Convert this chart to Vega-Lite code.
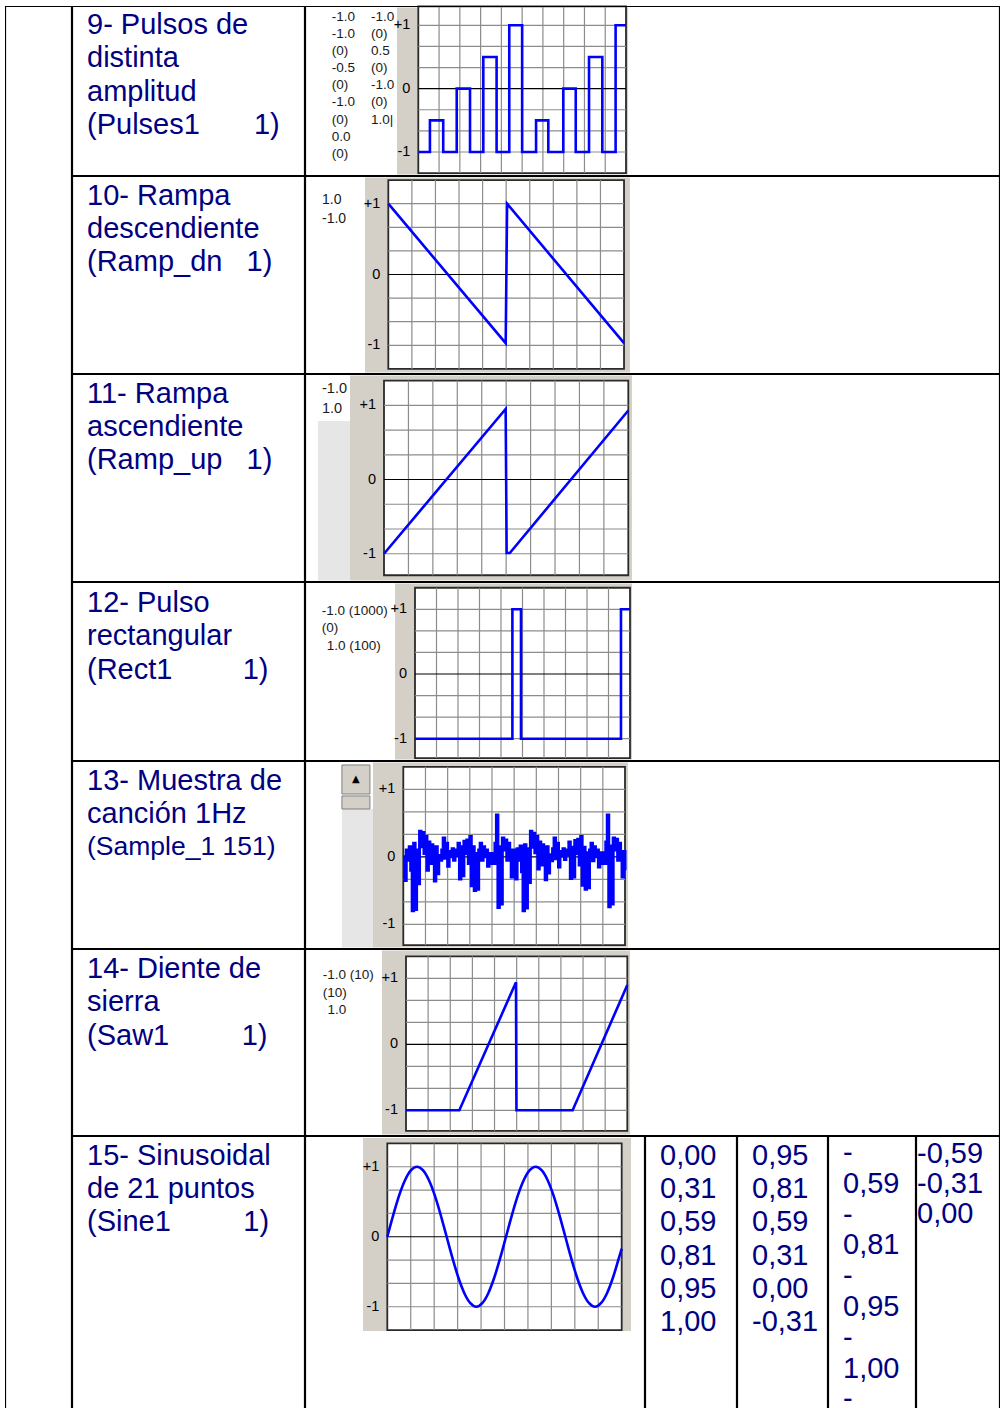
{
"$schema": "https://vega.github.io/schema/vega-lite/v6.json",
"background": "white",
"padding": {"left": 5, "top": 5, "right": 0, "bottom": 0},
"config": {"view": {"stroke": null}, "text": {"font": "Liberation Sans"}},
"datasets": {
"title": [
{"r":1,"line":0,"text":"9- Pulsos de"},{"r":1,"line":1,"text":"distinta"},{"r":1,"line":2,"text":"amplitud"},{"r":1,"line":3,"text":"(Pulses1\u00a0\u00a0\u00a0\u00a0\u00a0\u00a0\u20091)"},
{"r":2,"line":0,"text":"10- Rampa"},{"r":2,"line":1,"text":"descendiente"},{"r":2,"line":2,"text":"(Ramp_dn\u00a0\u00a0\u00a01)"},
{"r":3,"line":0,"text":"11- Rampa"},{"r":3,"line":1,"text":"ascendiente"},{"r":3,"line":2,"text":"(Ramp_up\u00a0\u00a0\u00a01)"},
{"r":4,"line":0,"text":"12- Pulso"},{"r":4,"line":1,"text":"rectangular"},{"r":4,"line":2,"text":"(Rect1\u00a0\u00a0\u00a0\u00a0\u00a0\u00a0\u00a0\u00a0\u20091)"},
{"r":5,"line":0,"text":"13- Muestra de"},{"r":5,"line":1,"text":"canción 1Hz"},{"r":5,"line":2,"text":"(Sample_1 151)"},
{"r":6,"line":0,"text":"14- Diente de"},{"r":6,"line":1,"text":"sierra"},{"r":6,"line":2,"text":"(Saw1\u00a0\u00a0\u00a0\u00a0\u00a0\u00a0\u00a0\u00a0\u00a01)"},
{"r":7,"line":0,"text":"15- Sinusoidal"},{"r":7,"line":1,"text":"de 21 puntos"},{"r":7,"line":2,"text":"(Sine1\u00a0\u00a0\u00a0\u00a0\u00a0\u00a0\u00a0\u00a0\u00a01)"}
],
"nums": [
{"col":1,"line":0,"text":"0,00"},{"col":1,"line":1,"text":"0,31"},{"col":1,"line":2,"text":"0,59"},{"col":1,"line":3,"text":"0,81"},{"col":1,"line":4,"text":"0,95"},{"col":1,"line":5,"text":"1,00"},
{"col":2,"line":0,"text":"0,95"},{"col":2,"line":1,"text":"0,81"},{"col":2,"line":2,"text":"0,59"},{"col":2,"line":3,"text":"0,31"},{"col":2,"line":4,"text":"0,00"},{"col":2,"line":5,"text":"-0,31"},
{"col":3,"line":0,"text":"-"},{"col":3,"line":1,"text":"0,59"},{"col":3,"line":2,"text":"-"},{"col":3,"line":3,"text":"0,81"},{"col":3,"line":4,"text":"-"},{"col":3,"line":5,"text":"0,95"},{"col":3,"line":6,"text":"-"},{"col":3,"line":7,"text":"1,00"},{"col":3,"line":8,"text":"-"},
{"col":4,"line":0,"text":"-0,59"},{"col":4,"line":1,"text":"-0,31"},{"col":4,"line":2,"text":"0,00"}
],
"side": [
{"c":"pulses","col":"A","lines":"-1.0\n-1.0\n(0)\n-0.5\n(0)\n-1.0\n(0)\n0.0\n(0)"},
{"c":"pulses","col":"B","lines":"-1.0\n(0)\n0.5\n(0)\n-1.0\n(0)\n1.0|"},
{"c":"rampdn","col":"A","lines":"1.0\n-1.0"},
{"c":"rampup","col":"A","lines":"-1.0\n1.0"},
{"c":"rect","col":"A","lines":"-1.0 (1000)\n(0)"},
{"c":"rect","col":"B","lines":"1.0 (100)"},
{"c":"saw","col":"A","lines":"-1.0 (10)\n(10)"},
{"c":"saw","col":"B","lines":"1.0"}
],
"ylab": [{"v":1,"t":"+1"},{"v":0,"t":"0"},{"v":-1,"t":"-1"}],
"vgrid": [{"g":1},{"g":2},{"g":3},{"g":4},{"g":5},{"g":6},{"g":7},{"g":8},{"g":9}],
"hgrid": [{"g":-1},{"g":-0.6667},{"g":-0.3333},{"g":0.3333},{"g":0.6667},{"g":1}],
"wave": [
{"c":"pulses","x":0,"y":-1},{"c":"pulses","x":0.56,"y":-0.5},{"c":"pulses","x":1.2,"y":-1},{"c":"pulses","x":1.85,"y":0},{"c":"pulses","x":2.49,"y":-1},{"c":"pulses","x":3.13,"y":0.5},{"c":"pulses","x":3.77,"y":-1},{"c":"pulses","x":4.38,"y":1},{"c":"pulses","x":5.0,"y":-1},{"c":"pulses","x":5.67,"y":-0.5},{"c":"pulses","x":6.26,"y":-1},{"c":"pulses","x":6.98,"y":0},{"c":"pulses","x":7.58,"y":-1},{"c":"pulses","x":8.22,"y":0.5},{"c":"pulses","x":8.86,"y":-1},{"c":"pulses","x":9.5,"y":1},{"c":"pulses","x":10,"y":1},
{"c":"rampdn","x":0,"y":1},{"c":"rampdn","x":4.98,"y":-0.97},{"c":"rampdn","x":5.04,"y":1},{"c":"rampdn","x":10,"y":-0.97},
{"c":"rampup","x":0,"y":-1},{"c":"rampup","x":4.98,"y":0.95},{"c":"rampup","x":5.02,"y":-0.99},{"c":"rampup","x":5.15,"y":-0.99},{"c":"rampup","x":10,"y":0.93},
{"c":"rect","x":0,"y":-1},{"c":"rect","x":4.53,"y":1},{"c":"rect","x":4.93,"y":-1},{"c":"rect","x":9.58,"y":1},{"c":"rect","x":10,"y":1},
{"c":"saw","x":0,"y":-1},{"c":"saw","x":2.41,"y":-1},{"c":"saw","x":4.97,"y":0.94},{"c":"saw","x":4.99,"y":-1},{"c":"saw","x":7.53,"y":-1},{"c":"saw","x":10,"y":0.9},
{"c":"sine","x":0,"y":0},{"c":"sine","x":0.253,"y":0.31},{"c":"sine","x":0.506,"y":0.59},{"c":"sine","x":0.76,"y":0.81},{"c":"sine","x":1.013,"y":0.95},{"c":"sine","x":1.266,"y":1},{"c":"sine","x":1.519,"y":0.95},{"c":"sine","x":1.772,"y":0.81},{"c":"sine","x":2.026,"y":0.59},{"c":"sine","x":2.279,"y":0.31},{"c":"sine","x":2.532,"y":0},{"c":"sine","x":2.785,"y":-0.31},{"c":"sine","x":3.038,"y":-0.59},{"c":"sine","x":3.292,"y":-0.81},{"c":"sine","x":3.545,"y":-0.95},{"c":"sine","x":3.798,"y":-1},{"c":"sine","x":4.051,"y":-0.95},{"c":"sine","x":4.304,"y":-0.81},{"c":"sine","x":4.558,"y":-0.59},{"c":"sine","x":4.811,"y":-0.31},
{"c":"sine","x":5.064,"y":0},{"c":"sine","x":5.317,"y":0.31},{"c":"sine","x":5.57,"y":0.59},{"c":"sine","x":5.824,"y":0.81},{"c":"sine","x":6.077,"y":0.95},{"c":"sine","x":6.33,"y":1},{"c":"sine","x":6.583,"y":0.95},{"c":"sine","x":6.836,"y":0.81},{"c":"sine","x":7.09,"y":0.59},{"c":"sine","x":7.343,"y":0.31},{"c":"sine","x":7.596,"y":0},{"c":"sine","x":7.849,"y":-0.31},{"c":"sine","x":8.102,"y":-0.59},{"c":"sine","x":8.356,"y":-0.81},{"c":"sine","x":8.609,"y":-0.95},{"c":"sine","x":8.862,"y":-1},{"c":"sine","x":9.115,"y":-0.95},{"c":"sine","x":9.368,"y":-0.81},{"c":"sine","x":9.622,"y":-0.59},{"c":"sine","x":9.875,"y":-0.31},{"c":"sine","x":10,"y":-0.17},
{"c":"sample","x":0,"y":0},{"c":"sample","x":0.067,"y":-0.35},{"c":"sample","x":0.133,"y":0.1},{"c":"sample","x":0.2,"y":-0.05},{"c":"sample","x":0.267,"y":0.15},{"c":"sample","x":0.333,"y":-0.2},{"c":"sample","x":0.4,"y":-0.8},{"c":"sample","x":0.467,"y":0.2},{"c":"sample","x":0.533,"y":-0.78},{"c":"sample","x":0.6,"y":0.1},{"c":"sample","x":0.667,"y":-0.4},{"c":"sample","x":0.733,"y":0.38},{"c":"sample","x":0.8,"y":0.15},{"c":"sample","x":0.867,"y":0.36},{"c":"sample","x":0.933,"y":0.05},
{"c":"sample","x":1,"y":0.3},{"c":"sample","x":1.067,"y":-0.2},{"c":"sample","x":1.133,"y":0.22},{"c":"sample","x":1.2,"y":-0.1},{"c":"sample","x":1.267,"y":0.18},{"c":"sample","x":1.333,"y":0.05},{"c":"sample","x":1.4,"y":-0.36},{"c":"sample","x":1.467,"y":0.15},{"c":"sample","x":1.533,"y":-0.25},{"c":"sample","x":1.6,"y":0.02},{"c":"sample","x":1.667,"y":-0.05},{"c":"sample","x":1.733,"y":0.1},{"c":"sample","x":1.8,"y":0.28},{"c":"sample","x":1.867,"y":-0.02},{"c":"sample","x":1.933,"y":0.2},
{"c":"sample","x":2,"y":-0.14},{"c":"sample","x":2.067,"y":0.08},{"c":"sample","x":2.133,"y":0},{"c":"sample","x":2.2,"y":0.12},{"c":"sample","x":2.267,"y":-0.05},{"c":"sample","x":2.333,"y":0.1},{"c":"sample","x":2.4,"y":0.02},{"c":"sample","x":2.467,"y":0.2},{"c":"sample","x":2.533,"y":-0.33},{"c":"sample","x":2.6,"y":0.15},{"c":"sample","x":2.667,"y":-0.28},{"c":"sample","x":2.733,"y":0.23},{"c":"sample","x":2.8,"y":0.05},{"c":"sample","x":2.867,"y":0.25},{"c":"sample","x":2.933,"y":-0.1},
{"c":"sample","x":3,"y":0.3},{"c":"sample","x":3.067,"y":-0.43},{"c":"sample","x":3.133,"y":0.15},{"c":"sample","x":3.2,"y":-0.5},{"c":"sample","x":3.267,"y":0.05},{"c":"sample","x":3.333,"y":-0.48},{"c":"sample","x":3.4,"y":0.1},{"c":"sample","x":3.467,"y":0.2},{"c":"sample","x":3.533,"y":-0.05},{"c":"sample","x":3.6,"y":0.15},{"c":"sample","x":3.667,"y":0},{"c":"sample","x":3.733,"y":0.1},{"c":"sample","x":3.8,"y":-0.14},{"c":"sample","x":3.867,"y":0.05},{"c":"sample","x":3.933,"y":-0.1},
{"c":"sample","x":4,"y":0.05},{"c":"sample","x":4.067,"y":-0.1},{"c":"sample","x":4.133,"y":0.2},{"c":"sample","x":4.2,"y":0.62},{"c":"sample","x":4.267,"y":-0.75},{"c":"sample","x":4.333,"y":0.15},{"c":"sample","x":4.4,"y":-0.7},{"c":"sample","x":4.467,"y":0.28},{"c":"sample","x":4.533,"y":0.1},{"c":"sample","x":4.6,"y":0.25},{"c":"sample","x":4.667,"y":-0.05},{"c":"sample","x":4.733,"y":0.2},{"c":"sample","x":4.8,"y":0},{"c":"sample","x":4.867,"y":-0.3},{"c":"sample","x":4.933,"y":0.1},
{"c":"sample","x":5,"y":0.02},{"c":"sample","x":5.067,"y":-0.33},{"c":"sample","x":5.133,"y":0.12},{"c":"sample","x":5.2,"y":-0.05},{"c":"sample","x":5.267,"y":0.16},{"c":"sample","x":5.333,"y":-0.22},{"c":"sample","x":5.4,"y":-0.8},{"c":"sample","x":5.467,"y":0.18},{"c":"sample","x":5.533,"y":-0.76},{"c":"sample","x":5.6,"y":0.12},{"c":"sample","x":5.667,"y":-0.38},{"c":"sample","x":5.733,"y":0.38},{"c":"sample","x":5.8,"y":0.14},{"c":"sample","x":5.867,"y":0.35},{"c":"sample","x":5.933,"y":0.06},
{"c":"sample","x":6,"y":0.3},{"c":"sample","x":6.067,"y":-0.18},{"c":"sample","x":6.133,"y":0.22},{"c":"sample","x":6.2,"y":-0.12},{"c":"sample","x":6.267,"y":0.18},{"c":"sample","x":6.333,"y":0.04},{"c":"sample","x":6.4,"y":-0.34},{"c":"sample","x":6.467,"y":0.15},{"c":"sample","x":6.533,"y":-0.24},{"c":"sample","x":6.6,"y":0.03},{"c":"sample","x":6.667,"y":-0.06},{"c":"sample","x":6.733,"y":0.12},{"c":"sample","x":6.8,"y":0.28},{"c":"sample","x":6.867,"y":-0.03},{"c":"sample","x":6.933,"y":0.2},
{"c":"sample","x":7,"y":-0.15},{"c":"sample","x":7.067,"y":0.08},{"c":"sample","x":7.133,"y":0.01},{"c":"sample","x":7.2,"y":0.12},{"c":"sample","x":7.267,"y":-0.04},{"c":"sample","x":7.333,"y":0.1},{"c":"sample","x":7.4,"y":0.03},{"c":"sample","x":7.467,"y":0.22},{"c":"sample","x":7.533,"y":-0.32},{"c":"sample","x":7.6,"y":0.14},{"c":"sample","x":7.667,"y":-0.3},{"c":"sample","x":7.733,"y":0.24},{"c":"sample","x":7.8,"y":0.05},{"c":"sample","x":7.867,"y":0.26},{"c":"sample","x":7.933,"y":-0.12},
{"c":"sample","x":8,"y":0.3},{"c":"sample","x":8.067,"y":-0.42},{"c":"sample","x":8.133,"y":0.14},{"c":"sample","x":8.2,"y":-0.48},{"c":"sample","x":8.267,"y":0.06},{"c":"sample","x":8.333,"y":-0.46},{"c":"sample","x":8.4,"y":0.1},{"c":"sample","x":8.467,"y":0.2},{"c":"sample","x":8.533,"y":-0.06},{"c":"sample","x":8.6,"y":0.15},{"c":"sample","x":8.667,"y":0},{"c":"sample","x":8.733,"y":0.1},{"c":"sample","x":8.8,"y":-0.15},{"c":"sample","x":8.867,"y":0.06},{"c":"sample","x":8.933,"y":-0.1},
{"c":"sample","x":9,"y":0.06},{"c":"sample","x":9.067,"y":-0.1},{"c":"sample","x":9.133,"y":0.22},{"c":"sample","x":9.2,"y":0.62},{"c":"sample","x":9.267,"y":-0.74},{"c":"sample","x":9.333,"y":0.16},{"c":"sample","x":9.4,"y":-0.7},{"c":"sample","x":9.467,"y":0.28},{"c":"sample","x":9.533,"y":0.1},{"c":"sample","x":9.6,"y":0.26},{"c":"sample","x":9.667,"y":-0.05},{"c":"sample","x":9.733,"y":0.2},{"c":"sample","x":9.8,"y":0},{"c":"sample","x":9.867,"y":-0.3},{"c":"sample","x":9.933,"y":0.08},{"c":"sample","x":10,"y":-0.2}
]
},
"spacing": 0,
"hconcat": [
{"width": 67, "height": 1403, "data": {"values": [{}]}, "mark": {"type": "rect", "filled": false, "stroke": "black", "strokeWidth": 2.2, "clip": true, "y2Offset": 8},
 "encoding": {"x": {"value": 0}, "x2": {"value": "width"}, "y": {"value": 0}, "y2": {"value": "height"}}},
{"spacing": 0, "vconcat": [
{"spacing": 0, "hconcat": [
 {"width": 233, "height": 170, "layer": [
  {"data": {"name": "title"}, "transform": [{"filter": "datum.r == 1"}],
   "mark": {"type": "text", "align": "left", "baseline": "alphabetic", "fontSize": 29, "fill": "#000080"},
   "encoding": {"x": {"datum": 0, "type": "quantitative", "scale": {"domain": [-15, 218], "nice": false, "zero": false}, "axis": null},
    "y": {"field": "line", "type": "quantitative", "scale": {"domain": [0, 1], "range": [28, 61.3], "nice": false, "zero": false}, "axis": null},
    "text": {"field": "text", "type": "nominal"}}},
  {"data": {"values": [{}]}, "mark": {"type": "rect", "filled": false, "stroke": "black", "strokeWidth": 2.2, "clip": true},
   "encoding": {"x": {"value": 0}, "x2": {"value": "width"}, "y": {"value": 0}, "y2": {"value": "height"}}}
 ]},
 {"width": 695, "height": 170, "layer": [
  {"data": {"values": [{}]}, "mark": {"type": "rect", "fill": "#d4d0c8"},
   "encoding": {"x": {"datum": -1.026, "type": "quantitative", "scale": {"domain": [-5.455, 28.007], "nice": false, "zero": false}, "axis": null}, "x2": {"datum": 10.1},
    "y": {"datum": -1.355, "type": "quantitative", "scale": {"domain": [-1.379, 1.305], "nice": false, "zero": false}, "axis": null}, "y2": {"datum": 1.281}}},
  {"data": {"values": [{}]}, "mark": {"type": "rect", "fill": "white", "stroke": "#2a2a2a", "strokeWidth": 1.8},
   "encoding": {"x": {"datum": 0, "type": "quantitative"}, "x2": {"datum": 10}, "y": {"datum": -1.333, "type": "quantitative"}, "y2": {"datum": 1.3}}},
  {"data": {"name": "vgrid"}, "mark": {"type": "rule", "stroke": "#8c8c8c", "strokeWidth": 1.2},
   "encoding": {"x": {"field": "g", "type": "quantitative"}, "y": {"datum": -1.333, "type": "quantitative"}, "y2": {"datum": 1.3}}},
  {"data": {"name": "hgrid"}, "mark": {"type": "rule", "stroke": "#8c8c8c", "strokeWidth": 1.2},
   "encoding": {"y": {"field": "g", "type": "quantitative"}, "x": {"datum": 0, "type": "quantitative"}, "x2": {"datum": 10}}},
  {"data": {"values": [{}]}, "mark": {"type": "rule", "stroke": "black", "strokeWidth": 1.2},
   "encoding": {"y": {"datum": 0, "type": "quantitative"}, "x": {"datum": 0, "type": "quantitative"}, "x2": {"datum": 10}}},
  {"data": {"name": "ylab"}, "mark": {"type": "text", "align": "right", "baseline": "middle", "dx": -8, "fontSize": 14.5, "fill": "black"},
   "encoding": {"x": {"datum": 0, "type": "quantitative"}, "y": {"field": "v", "type": "quantitative"}, "text": {"field": "t", "type": "nominal"}}},
  {"data": {"name": "wave"}, "transform": [{"filter": "datum.c == 'pulses'"}], "mark": {"type": "line", "stroke": "#0000ff", "strokeWidth": 2.6, "interpolate": "step-after"},
   "encoding": {"x": {"field": "x", "type": "quantitative"}, "y": {"field": "y", "type": "quantitative"}}},
  {"data": {"name": "side"}, "transform": [{"filter": "datum.c == 'pulses' && datum.col == 'A'"}], "mark": {"type": "text", "align": "left", "baseline": "top", "fontSize": 13.5, "lineHeight": 17.1, "lineBreak": "\n", "fill": "#1a1a1a"},
   "encoding": {"x": {"datum": -4.17, "type": "quantitative"}, "y": {"datum": 1.243, "type": "quantitative"}, "text": {"field": "lines", "type": "nominal"}}},
  {"data": {"name": "side"}, "transform": [{"filter": "datum.c == 'pulses' && datum.col == 'B'"}], "mark": {"type": "text", "align": "left", "baseline": "top", "fontSize": 13.5, "lineHeight": 17.1, "lineBreak": "\n", "fill": "#1a1a1a"},
   "encoding": {"x": {"datum": -2.277, "type": "quantitative"}, "y": {"datum": 1.243, "type": "quantitative"}, "text": {"field": "lines", "type": "nominal"}}},
  {"data": {"values": [{}]}, "mark": {"type": "rect", "filled": false, "stroke": "black", "strokeWidth": 2.2, "clip": true},
   "encoding": {"x": {"value": 0}, "x2": {"value": "width"}, "y": {"value": 0}, "y2": {"value": "height"}}}
 ]}
]},
{"spacing": 0, "hconcat": [
 {"width": 233, "height": 198, "layer": [
  {"data": {"name": "title"}, "transform": [{"filter": "datum.r == 2"}],
   "mark": {"type": "text", "align": "left", "baseline": "alphabetic", "fontSize": 29, "fill": "#000080"},
   "encoding": {"x": {"datum": 0, "type": "quantitative", "scale": {"domain": [-15, 218], "nice": false, "zero": false}, "axis": null},
    "y": {"field": "line", "type": "quantitative", "scale": {"domain": [0, 1], "range": [28.5, 61.8], "nice": false, "zero": false}, "axis": null},
    "text": {"field": "text", "type": "nominal"}}},
  {"data": {"values": [{}]}, "mark": {"type": "rect", "filled": false, "stroke": "black", "strokeWidth": 2.2, "clip": true},
   "encoding": {"x": {"value": 0}, "x2": {"value": "width"}, "y": {"value": 0}, "y2": {"value": "height"}}}
 ]},
 {"width": 695, "height": 198, "layer": [
  {"data": {"values": [{}]}, "mark": {"type": "rect", "fill": "#d4d0c8"},
   "encoding": {"x": {"datum": -0.989, "type": "quantitative", "scale": {"domain": [-3.534, 25.95], "nice": false, "zero": false}, "axis": null}, "x2": {"datum": 10.25},
    "y": {"datum": -1.384, "type": "quantitative", "scale": {"domain": [-1.405, 1.391], "nice": false, "zero": false}, "axis": null}, "y2": {"datum": 1.37}}},
  {"data": {"values": [{}]}, "mark": {"type": "rect", "fill": "white", "stroke": "#2a2a2a", "strokeWidth": 1.8},
   "encoding": {"x": {"datum": 0, "type": "quantitative"}, "x2": {"datum": 10}, "y": {"datum": -1.333, "type": "quantitative"}, "y2": {"datum": 1.333}}},
  {"data": {"name": "vgrid"}, "mark": {"type": "rule", "stroke": "#8c8c8c", "strokeWidth": 1.2},
   "encoding": {"x": {"field": "g", "type": "quantitative"}, "y": {"datum": -1.333, "type": "quantitative"}, "y2": {"datum": 1.333}}},
  {"data": {"name": "hgrid"}, "mark": {"type": "rule", "stroke": "#8c8c8c", "strokeWidth": 1.2},
   "encoding": {"y": {"field": "g", "type": "quantitative"}, "x": {"datum": 0, "type": "quantitative"}, "x2": {"datum": 10}}},
  {"data": {"values": [{}]}, "mark": {"type": "rule", "stroke": "black", "strokeWidth": 1.2},
   "encoding": {"y": {"datum": 0, "type": "quantitative"}, "x": {"datum": 0, "type": "quantitative"}, "x2": {"datum": 10}}},
  {"data": {"name": "ylab"}, "mark": {"type": "text", "align": "right", "baseline": "middle", "dx": -8, "fontSize": 14.5, "fill": "black"},
   "encoding": {"x": {"datum": 0, "type": "quantitative"}, "y": {"field": "v", "type": "quantitative"}, "text": {"field": "t", "type": "nominal"}}},
  {"data": {"name": "wave"}, "transform": [{"filter": "datum.c == 'rampdn'"}], "mark": {"type": "line", "stroke": "#0000ff", "strokeWidth": 2.6},
   "encoding": {"x": {"field": "x", "type": "quantitative"}, "y": {"field": "y", "type": "quantitative"}}},
  {"data": {"name": "side"}, "transform": [{"filter": "datum.c == 'rampdn'"}], "mark": {"type": "text", "align": "left", "baseline": "top", "fontSize": 14, "lineHeight": 18.3, "lineBreak": "\n", "fill": "#1a1a1a"},
   "encoding": {"x": {"datum": -2.813, "type": "quantitative"}, "y": {"datum": 1.147, "type": "quantitative"}, "text": {"field": "lines", "type": "nominal"}}},
  {"data": {"values": [{}]}, "mark": {"type": "rect", "filled": false, "stroke": "black", "strokeWidth": 2.2, "clip": true},
   "encoding": {"x": {"value": 0}, "x2": {"value": "width"}, "y": {"value": 0}, "y2": {"value": "height"}}}
 ]}
]},
{"spacing": 0, "hconcat": [
 {"width": 233, "height": 208, "layer": [
  {"data": {"name": "title"}, "transform": [{"filter": "datum.r == 3"}],
   "mark": {"type": "text", "align": "left", "baseline": "alphabetic", "fontSize": 29, "fill": "#000080"},
   "encoding": {"x": {"datum": 0, "type": "quantitative", "scale": {"domain": [-15, 218], "nice": false, "zero": false}, "axis": null},
    "y": {"field": "line", "type": "quantitative", "scale": {"domain": [0, 1], "range": [28.5, 61.8], "nice": false, "zero": false}, "axis": null},
    "text": {"field": "text", "type": "nominal"}}},
  {"data": {"values": [{}]}, "mark": {"type": "rect", "filled": false, "stroke": "black", "strokeWidth": 2.2, "clip": true},
   "encoding": {"x": {"value": 0}, "x2": {"value": "width"}, "y": {"value": 0}, "y2": {"value": "height"}}}
 ]},
 {"width": 695, "height": 208, "layer": [
  {"data": {"values": [{}]}, "mark": {"type": "rect", "fill": "#d4d0c8"},
   "encoding": {"x": {"datum": -1.392, "type": "quantitative", "scale": {"domain": [-3.234, 25.215], "nice": false, "zero": false}, "axis": null}, "x2": {"datum": 10.15},
    "y": {"datum": -1.361, "type": "quantitative", "scale": {"domain": [-1.381, 1.422], "nice": false, "zero": false}, "axis": null}, "y2": {"datum": 1.402}}},
  {"data": {"values": [{}]}, "mark": {"type": "rect", "fill": "#e6e6e6"},
   "encoding": {"x": {"datum": -2.702, "type": "quantitative"}, "x2": {"datum": -1.392}, "y": {"datum": -1.361, "type": "quantitative"}, "y2": {"datum": 0.788}}},
  {"data": {"values": [{}]}, "mark": {"type": "rect", "fill": "white", "stroke": "#2a2a2a", "strokeWidth": 1.8},
   "encoding": {"x": {"datum": 0, "type": "quantitative"}, "x2": {"datum": 10}, "y": {"datum": -1.29, "type": "quantitative"}, "y2": {"datum": 1.333}}},
  {"data": {"name": "vgrid"}, "mark": {"type": "rule", "stroke": "#8c8c8c", "strokeWidth": 1.2},
   "encoding": {"x": {"field": "g", "type": "quantitative"}, "y": {"datum": -1.29, "type": "quantitative"}, "y2": {"datum": 1.333}}},
  {"data": {"name": "hgrid"}, "mark": {"type": "rule", "stroke": "#8c8c8c", "strokeWidth": 1.2},
   "encoding": {"y": {"field": "g", "type": "quantitative"}, "x": {"datum": 0, "type": "quantitative"}, "x2": {"datum": 10}}},
  {"data": {"values": [{}]}, "mark": {"type": "rule", "stroke": "black", "strokeWidth": 1.2},
   "encoding": {"y": {"datum": 0, "type": "quantitative"}, "x": {"datum": 0, "type": "quantitative"}, "x2": {"datum": 10}}},
  {"data": {"name": "ylab"}, "mark": {"type": "text", "align": "right", "baseline": "middle", "dx": -8, "fontSize": 14.5, "fill": "black"},
   "encoding": {"x": {"datum": 0, "type": "quantitative"}, "y": {"field": "v", "type": "quantitative"}, "text": {"field": "t", "type": "nominal"}}},
  {"data": {"name": "wave"}, "transform": [{"filter": "datum.c == 'rampup'"}], "mark": {"type": "line", "stroke": "#0000ff", "strokeWidth": 2.6},
   "encoding": {"x": {"field": "x", "type": "quantitative"}, "y": {"field": "y", "type": "quantitative"}}},
  {"data": {"name": "side"}, "transform": [{"filter": "datum.c == 'rampup'"}], "mark": {"type": "text", "align": "left", "baseline": "top", "fontSize": 14.5, "lineHeight": 20, "lineBreak": "\n", "fill": "#1a1a1a"},
   "encoding": {"x": {"datum": -2.538, "type": "quantitative"}, "y": {"datum": 1.318, "type": "quantitative"}, "text": {"field": "lines", "type": "nominal"}}},
  {"data": {"values": [{}]}, "mark": {"type": "rect", "filled": false, "stroke": "black", "strokeWidth": 2.2, "clip": true},
   "encoding": {"x": {"value": 0}, "x2": {"value": "width"}, "y": {"value": 0}, "y2": {"value": "height"}}}
 ]}
]},
{"spacing": 0, "hconcat": [
 {"width": 233, "height": 179, "layer": [
  {"data": {"name": "title"}, "transform": [{"filter": "datum.r == 4"}],
   "mark": {"type": "text", "align": "left", "baseline": "alphabetic", "fontSize": 29, "fill": "#000080"},
   "encoding": {"x": {"datum": 0, "type": "quantitative", "scale": {"domain": [-15, 218], "nice": false, "zero": false}, "axis": null},
    "y": {"field": "line", "type": "quantitative", "scale": {"domain": [0, 1], "range": [30, 63.3], "nice": false, "zero": false}, "axis": null},
    "text": {"field": "text", "type": "nominal"}}},
  {"data": {"values": [{}]}, "mark": {"type": "rect", "filled": false, "stroke": "black", "strokeWidth": 2.2, "clip": true},
   "encoding": {"x": {"value": 0}, "x2": {"value": "width"}, "y": {"value": 0}, "y2": {"value": "height"}}}
 ]},
 {"width": 695, "height": 179, "layer": [
  {"data": {"values": [{}]}, "mark": {"type": "rect", "fill": "#d4d0c8"},
   "encoding": {"x": {"datum": -0.93, "type": "quantitative", "scale": {"domain": [-5.116, 27.209], "nice": false, "zero": false}, "axis": null}, "x2": {"datum": 10.093},
    "y": {"datum": -1.321, "type": "quantitative", "scale": {"domain": [-1.345, 1.422], "nice": false, "zero": false}, "axis": null}, "y2": {"datum": 1.399}}},
  {"data": {"values": [{}]}, "mark": {"type": "rect", "fill": "white", "stroke": "#2a2a2a", "strokeWidth": 1.8},
   "encoding": {"x": {"datum": 0, "type": "quantitative"}, "x2": {"datum": 10}, "y": {"datum": -1.3, "type": "quantitative"}, "y2": {"datum": 1.333}}},
  {"data": {"name": "vgrid"}, "mark": {"type": "rule", "stroke": "#8c8c8c", "strokeWidth": 1.2},
   "encoding": {"x": {"field": "g", "type": "quantitative"}, "y": {"datum": -1.3, "type": "quantitative"}, "y2": {"datum": 1.333}}},
  {"data": {"name": "hgrid"}, "mark": {"type": "rule", "stroke": "#8c8c8c", "strokeWidth": 1.2},
   "encoding": {"y": {"field": "g", "type": "quantitative"}, "x": {"datum": 0, "type": "quantitative"}, "x2": {"datum": 10}}},
  {"data": {"values": [{}]}, "mark": {"type": "rule", "stroke": "black", "strokeWidth": 1.2},
   "encoding": {"y": {"datum": 0, "type": "quantitative"}, "x": {"datum": 0, "type": "quantitative"}, "x2": {"datum": 10}}},
  {"data": {"name": "ylab"}, "mark": {"type": "text", "align": "right", "baseline": "middle", "dx": -8, "fontSize": 14.5, "fill": "black"},
   "encoding": {"x": {"datum": 0, "type": "quantitative"}, "y": {"field": "v", "type": "quantitative"}, "text": {"field": "t", "type": "nominal"}}},
  {"data": {"name": "wave"}, "transform": [{"filter": "datum.c == 'rect'"}], "mark": {"type": "line", "stroke": "#0000ff", "strokeWidth": 2.6, "interpolate": "step-after"},
   "encoding": {"x": {"field": "x", "type": "quantitative"}, "y": {"field": "y", "type": "quantitative"}}},
  {"data": {"name": "side"}, "transform": [{"filter": "datum.c == 'rect' && datum.col == 'A'"}], "mark": {"type": "text", "align": "left", "baseline": "top", "fontSize": 13.5, "lineHeight": 17.7, "lineBreak": "\n", "fill": "#1a1a1a"},
   "encoding": {"x": {"datum": -4.34, "type": "quantitative"}, "y": {"datum": 1.088, "type": "quantitative"}, "text": {"field": "lines", "type": "nominal"}}},
  {"data": {"name": "side"}, "transform": [{"filter": "datum.c == 'rect' && datum.col == 'B'"}], "mark": {"type": "text", "align": "left", "baseline": "top", "fontSize": 13.5, "lineHeight": 17.7, "lineBreak": "\n", "fill": "#1a1a1a"},
   "encoding": {"x": {"datum": -4.11, "type": "quantitative"}, "y": {"datum": 0.541, "type": "quantitative"}, "text": {"field": "lines", "type": "nominal"}}},
  {"data": {"values": [{}]}, "mark": {"type": "rect", "filled": false, "stroke": "black", "strokeWidth": 2.2, "clip": true},
   "encoding": {"x": {"value": 0}, "x2": {"value": "width"}, "y": {"value": 0}, "y2": {"value": "height"}}}
 ]}
]},
{"spacing": 0, "hconcat": [
 {"width": 233, "height": 188, "layer": [
  {"data": {"name": "title"}, "transform": [{"filter": "datum.r == 5 && datum.line < 2"}],
   "mark": {"type": "text", "align": "left", "baseline": "alphabetic", "fontSize": 29, "fill": "#000080"},
   "encoding": {"x": {"datum": 0, "type": "quantitative", "scale": {"domain": [-15, 218], "nice": false, "zero": false}, "axis": null},
    "y": {"field": "line", "type": "quantitative", "scale": {"domain": [0, 1], "range": [29, 62], "nice": false, "zero": false}, "axis": null},
    "text": {"field": "text", "type": "nominal"}}},
  {"data": {"name": "title"}, "transform": [{"filter": "datum.r == 5 && datum.line == 2"}],
   "mark": {"type": "text", "align": "left", "baseline": "alphabetic", "fontSize": 26.5, "dy": -1, "fill": "#000080"},
   "encoding": {"x": {"datum": 0, "type": "quantitative"}, "y": {"field": "line", "type": "quantitative"}, "text": {"field": "text", "type": "nominal"}}},
  {"data": {"values": [{}]}, "mark": {"type": "rect", "filled": false, "stroke": "black", "strokeWidth": 2.2, "clip": true},
   "encoding": {"x": {"value": 0}, "x2": {"value": "width"}, "y": {"value": 0}, "y2": {"value": "height"}}}
 ]},
 {"width": 695, "height": 188, "layer": [
  {"data": {"values": [{}]}, "mark": {"type": "rect", "fill": "#d4d0c8"},
   "encoding": {"x": {"datum": -1.367, "type": "quantitative", "scale": {"domain": [-4.434, 26.915], "nice": false, "zero": false}, "axis": null}, "x2": {"datum": 10.135},
    "y": {"datum": -1.344, "type": "quantitative", "scale": {"domain": [-1.366, 1.419], "nice": false, "zero": false}, "axis": null}, "y2": {"datum": 1.397}}},
  {"data": {"values": [{}]}, "mark": {"type": "rect", "fill": "#e6e6e6"},
   "encoding": {"x": {"datum": -2.769, "type": "quantitative"}, "x2": {"datum": -1.367}, "y": {"datum": -1.344, "type": "quantitative"}, "y2": {"datum": 0.708}}},
  {"data": {"values": [{}]}, "mark": {"type": "rect", "fill": "#d4d0c8", "stroke": "#808080", "strokeWidth": 1},
   "encoding": {"x": {"datum": -2.769, "type": "quantitative"}, "x2": {"datum": -1.506}, "y": {"datum": 0.93, "type": "quantitative"}, "y2": {"datum": 1.36}}},
  {"data": {"values": [{}]}, "mark": {"type": "rect", "fill": "#d4d0c8", "stroke": "#808080", "strokeWidth": 1},
   "encoding": {"x": {"datum": -2.769, "type": "quantitative"}, "x2": {"datum": -1.506}, "y": {"datum": 0.708, "type": "quantitative"}, "y2": {"datum": 0.901}}},
  {"data": {"values": [{"t": "▲"}]}, "mark": {"type": "text", "align": "center", "baseline": "middle", "fontSize": 10, "font": "DejaVu Sans", "fill": "black"},
   "encoding": {"x": {"datum": -2.138, "type": "quantitative"}, "y": {"datum": 1.153, "type": "quantitative"}, "text": {"field": "t", "type": "nominal"}}},
  {"data": {"values": [{}]}, "mark": {"type": "rect", "fill": "white", "stroke": "#2a2a2a", "strokeWidth": 1.8},
   "encoding": {"x": {"datum": 0, "type": "quantitative"}, "x2": {"datum": 10}, "y": {"datum": -1.31, "type": "quantitative"}, "y2": {"datum": 1.333}}},
  {"data": {"name": "vgrid"}, "mark": {"type": "rule", "stroke": "#8c8c8c", "strokeWidth": 1.2},
   "encoding": {"x": {"field": "g", "type": "quantitative"}, "y": {"datum": -1.31, "type": "quantitative"}, "y2": {"datum": 1.333}}},
  {"data": {"name": "hgrid"}, "mark": {"type": "rule", "stroke": "#8c8c8c", "strokeWidth": 1.2},
   "encoding": {"y": {"field": "g", "type": "quantitative"}, "x": {"datum": 0, "type": "quantitative"}, "x2": {"datum": 10}}},
  {"data": {"values": [{}]}, "mark": {"type": "rule", "stroke": "black", "strokeWidth": 1.2},
   "encoding": {"y": {"datum": 0, "type": "quantitative"}, "x": {"datum": 0, "type": "quantitative"}, "x2": {"datum": 10}}},
  {"data": {"name": "ylab"}, "mark": {"type": "text", "align": "right", "baseline": "middle", "dx": -8, "fontSize": 14.5, "fill": "black"},
   "encoding": {"x": {"datum": 0, "type": "quantitative"}, "y": {"field": "v", "type": "quantitative"}, "text": {"field": "t", "type": "nominal"}}},
  {"data": {"name": "wave"}, "transform": [{"filter": "datum.c == 'sample'"}], "mark": {"type": "line", "stroke": "#0000ff", "strokeWidth": 3, "interpolate": "step-after"},
   "encoding": {"x": {"field": "x", "type": "quantitative"}, "y": {"field": "y", "type": "quantitative"}}},
  {"data": {"values": [{}]}, "mark": {"type": "rect", "filled": false, "stroke": "black", "strokeWidth": 2.2, "clip": true},
   "encoding": {"x": {"value": 0}, "x2": {"value": "width"}, "y": {"value": 0}, "y2": {"value": "height"}}}
 ]}
]},
{"spacing": 0, "hconcat": [
 {"width": 233, "height": 187, "layer": [
  {"data": {"name": "title"}, "transform": [{"filter": "datum.r == 6"}],
   "mark": {"type": "text", "align": "left", "baseline": "alphabetic", "fontSize": 29, "fill": "#000080"},
   "encoding": {"x": {"datum": 0, "type": "quantitative", "scale": {"domain": [-15, 218], "nice": false, "zero": false}, "axis": null},
    "y": {"field": "line", "type": "quantitative", "scale": {"domain": [0, 1], "range": [29, 62.3], "nice": false, "zero": false}, "axis": null},
    "text": {"field": "text", "type": "nominal"}}},
  {"data": {"values": [{}]}, "mark": {"type": "rect", "filled": false, "stroke": "black", "strokeWidth": 2.2, "clip": true},
   "encoding": {"x": {"value": 0}, "x2": {"value": "width"}, "y": {"value": 0}, "y2": {"value": "height"}}}
 ]},
 {"width": 695, "height": 187, "layer": [
  {"data": {"values": [{}]}, "mark": {"type": "rect", "fill": "#d4d0c8"},
   "encoding": {"x": {"datum": -1.085, "type": "quantitative", "scale": {"domain": [-4.564, 26.841], "nice": false, "zero": false}, "axis": null}, "x2": {"datum": 10.122},
    "y": {"datum": -1.367, "type": "quantitative", "scale": {"domain": [-1.389, 1.444], "nice": false, "zero": false}, "axis": null}, "y2": {"datum": 1.421}}},
  {"data": {"values": [{}]}, "mark": {"type": "rect", "fill": "white", "stroke": "#2a2a2a", "strokeWidth": 1.8},
   "encoding": {"x": {"datum": 0, "type": "quantitative"}, "x2": {"datum": 10}, "y": {"datum": -1.31, "type": "quantitative"}, "y2": {"datum": 1.333}}},
  {"data": {"name": "vgrid"}, "mark": {"type": "rule", "stroke": "#8c8c8c", "strokeWidth": 1.2},
   "encoding": {"x": {"field": "g", "type": "quantitative"}, "y": {"datum": -1.31, "type": "quantitative"}, "y2": {"datum": 1.333}}},
  {"data": {"name": "hgrid"}, "mark": {"type": "rule", "stroke": "#8c8c8c", "strokeWidth": 1.2},
   "encoding": {"y": {"field": "g", "type": "quantitative"}, "x": {"datum": 0, "type": "quantitative"}, "x2": {"datum": 10}}},
  {"data": {"values": [{}]}, "mark": {"type": "rule", "stroke": "black", "strokeWidth": 1.2},
   "encoding": {"y": {"datum": 0, "type": "quantitative"}, "x": {"datum": 0, "type": "quantitative"}, "x2": {"datum": 10}}},
  {"data": {"name": "ylab"}, "mark": {"type": "text", "align": "right", "baseline": "middle", "dx": -8, "fontSize": 14.5, "fill": "black"},
   "encoding": {"x": {"datum": 0, "type": "quantitative"}, "y": {"field": "v", "type": "quantitative"}, "text": {"field": "t", "type": "nominal"}}},
  {"data": {"name": "wave"}, "transform": [{"filter": "datum.c == 'saw'"}], "mark": {"type": "line", "stroke": "#0000ff", "strokeWidth": 2.6},
   "encoding": {"x": {"field": "x", "type": "quantitative"}, "y": {"field": "y", "type": "quantitative"}}},
  {"data": {"name": "side"}, "transform": [{"filter": "datum.c == 'saw' && datum.col == 'A'"}], "mark": {"type": "text", "align": "left", "baseline": "top", "fontSize": 13.5, "lineHeight": 17.5, "lineBreak": "\n", "fill": "#1a1a1a"},
   "encoding": {"x": {"datum": -3.764, "type": "quantitative"}, "y": {"datum": 1.153, "type": "quantitative"}, "text": {"field": "lines", "type": "nominal"}}},
  {"data": {"name": "side"}, "transform": [{"filter": "datum.c == 'saw' && datum.col == 'B'"}], "mark": {"type": "text", "align": "left", "baseline": "top", "fontSize": 13.5, "lineHeight": 17.5, "lineBreak": "\n", "fill": "#1a1a1a"},
   "encoding": {"x": {"datum": -3.55, "type": "quantitative"}, "y": {"datum": 0.623, "type": "quantitative"}, "text": {"field": "lines", "type": "nominal"}}},
  {"data": {"values": [{}]}, "mark": {"type": "rect", "filled": false, "stroke": "black", "strokeWidth": 2.2, "clip": true},
   "encoding": {"x": {"value": 0}, "x2": {"value": "width"}, "y": {"value": 0}, "y2": {"value": "height"}}}
 ]}
]},
{"spacing": 0, "hconcat": [
 {"width": 233, "height": 273, "layer": [
  {"data": {"name": "title"}, "transform": [{"filter": "datum.r == 7"}],
   "mark": {"type": "text", "align": "left", "baseline": "alphabetic", "fontSize": 29, "fill": "#000080"},
   "encoding": {"x": {"datum": 0, "type": "quantitative", "scale": {"domain": [-15, 218], "nice": false, "zero": false}, "axis": null},
    "y": {"field": "line", "type": "quantitative", "scale": {"domain": [0, 1], "range": [29.3, 62.3], "nice": false, "zero": false}, "axis": null},
    "text": {"field": "text", "type": "nominal"}}},
  {"data": {"values": [{}]}, "mark": {"type": "rect", "filled": false, "stroke": "black", "strokeWidth": 2.2, "clip": true, "y2Offset": 8},
   "encoding": {"x": {"value": 0}, "x2": {"value": "width"}, "y": {"value": 0}, "y2": {"value": "height"}}}
 ]},
 {"width": 340, "height": 273, "layer": [
  {"data": {"values": [{}]}, "mark": {"type": "rect", "fill": "#d4d0c8"},
   "encoding": {"x": {"datum": -1.037, "type": "quantitative", "scale": {"domain": [-3.511, 10.994], "nice": false, "zero": false}, "axis": null}, "x2": {"datum": 10.397},
    "y": {"datum": -1.347, "type": "quantitative", "scale": {"domain": [-2.461, 1.439], "nice": false, "zero": false}, "axis": null}, "y2": {"datum": 1.41}}},
  {"data": {"values": [{}]}, "mark": {"type": "rect", "fill": "white", "stroke": "#2a2a2a", "strokeWidth": 1.8},
   "encoding": {"x": {"datum": 0, "type": "quantitative"}, "x2": {"datum": 10}, "y": {"datum": -1.333, "type": "quantitative"}, "y2": {"datum": 1.333}}},
  {"data": {"name": "vgrid"}, "mark": {"type": "rule", "stroke": "#8c8c8c", "strokeWidth": 1.2},
   "encoding": {"x": {"field": "g", "type": "quantitative"}, "y": {"datum": -1.333, "type": "quantitative"}, "y2": {"datum": 1.333}}},
  {"data": {"name": "hgrid"}, "mark": {"type": "rule", "stroke": "#8c8c8c", "strokeWidth": 1.2},
   "encoding": {"y": {"field": "g", "type": "quantitative"}, "x": {"datum": 0, "type": "quantitative"}, "x2": {"datum": 10}}},
  {"data": {"values": [{}]}, "mark": {"type": "rule", "stroke": "black", "strokeWidth": 1.2},
   "encoding": {"y": {"datum": 0, "type": "quantitative"}, "x": {"datum": 0, "type": "quantitative"}, "x2": {"datum": 10}}},
  {"data": {"name": "ylab"}, "mark": {"type": "text", "align": "right", "baseline": "middle", "dx": -8, "fontSize": 14.5, "fill": "black"},
   "encoding": {"x": {"datum": 0, "type": "quantitative"}, "y": {"field": "v", "type": "quantitative"}, "text": {"field": "t", "type": "nominal"}}},
  {"data": {"name": "wave"}, "transform": [{"filter": "datum.c == 'sine'"}], "mark": {"type": "line", "stroke": "#0000ff", "strokeWidth": 2.6, "interpolate": "monotone"},
   "encoding": {"x": {"field": "x", "type": "quantitative"}, "y": {"field": "y", "type": "quantitative"}}},
  {"data": {"values": [{}]}, "mark": {"type": "rect", "filled": false, "stroke": "black", "strokeWidth": 2.2, "clip": true, "y2Offset": 8},
   "encoding": {"x": {"value": 0}, "x2": {"value": "width"}, "y": {"value": 0}, "y2": {"value": "height"}}}
 ]},
 {"width": 92, "height": 273, "layer": [
  {"data": {"name": "nums"}, "transform": [{"filter": "datum.col == 1"}],
   "mark": {"type": "text", "align": "left", "baseline": "alphabetic", "fontSize": 29, "fill": "#000080", "clip": true},
   "encoding": {"x": {"datum": 0, "type": "quantitative", "scale": {"domain": [-15, 77], "nice": false, "zero": false}, "axis": null},
    "y": {"field": "line", "type": "quantitative", "scale": {"domain": [0, 1], "range": [29, 62.2], "nice": false, "zero": false}, "axis": null},
    "text": {"field": "text", "type": "nominal"}}},
  {"data": {"values": [{}]}, "mark": {"type": "rect", "filled": false, "stroke": "black", "strokeWidth": 2.2, "clip": true, "y2Offset": 8},
   "encoding": {"x": {"value": 0}, "x2": {"value": "width"}, "y": {"value": 0}, "y2": {"value": "height"}}}
 ]},
 {"width": 91, "height": 273, "layer": [
  {"data": {"name": "nums"}, "transform": [{"filter": "datum.col == 2"}],
   "mark": {"type": "text", "align": "left", "baseline": "alphabetic", "fontSize": 29, "fill": "#000080", "clip": true},
   "encoding": {"x": {"datum": 0, "type": "quantitative", "scale": {"domain": [-15, 76], "nice": false, "zero": false}, "axis": null},
    "y": {"field": "line", "type": "quantitative", "scale": {"domain": [0, 1], "range": [29, 62.2], "nice": false, "zero": false}, "axis": null},
    "text": {"field": "text", "type": "nominal"}}},
  {"data": {"values": [{}]}, "mark": {"type": "rect", "filled": false, "stroke": "black", "strokeWidth": 2.2, "clip": true, "y2Offset": 8},
   "encoding": {"x": {"value": 0}, "x2": {"value": "width"}, "y": {"value": 0}, "y2": {"value": "height"}}}
 ]},
 {"width": 88, "height": 273, "layer": [
  {"data": {"name": "nums"}, "transform": [{"filter": "datum.col == 3"}],
   "mark": {"type": "text", "align": "left", "baseline": "alphabetic", "fontSize": 29, "fill": "#000080", "clip": true},
   "encoding": {"x": {"datum": 0, "type": "quantitative", "scale": {"domain": [-15, 73], "nice": false, "zero": false}, "axis": null},
    "y": {"field": "line", "type": "quantitative", "scale": {"domain": [0, 1], "range": [26, 56.8], "nice": false, "zero": false}, "axis": null},
    "text": {"field": "text", "type": "nominal"}}},
  {"data": {"values": [{}]}, "mark": {"type": "rect", "filled": false, "stroke": "black", "strokeWidth": 2.2, "clip": true, "y2Offset": 8},
   "encoding": {"x": {"value": 0}, "x2": {"value": "width"}, "y": {"value": 0}, "y2": {"value": "height"}}}
 ]},
 {"width": 84, "height": 273, "layer": [
  {"data": {"name": "nums"}, "transform": [{"filter": "datum.col == 4"}],
   "mark": {"type": "text", "align": "left", "baseline": "alphabetic", "fontSize": 29, "fill": "#000080", "clip": true},
   "encoding": {"x": {"datum": 0, "type": "quantitative", "scale": {"domain": [-1, 83], "nice": false, "zero": false}, "axis": null},
    "y": {"field": "line", "type": "quantitative", "scale": {"domain": [0, 1], "range": [26.7, 56.7], "nice": false, "zero": false}, "axis": null},
    "text": {"field": "text", "type": "nominal"}}},
  {"data": {"values": [{}]}, "mark": {"type": "rect", "filled": false, "stroke": "black", "strokeWidth": 2.2, "clip": true, "y2Offset": 8},
   "encoding": {"x": {"value": 0}, "x2": {"value": "width"}, "y": {"value": 0}, "y2": {"value": "height"}}}
 ]}
]}
]}
]
}
